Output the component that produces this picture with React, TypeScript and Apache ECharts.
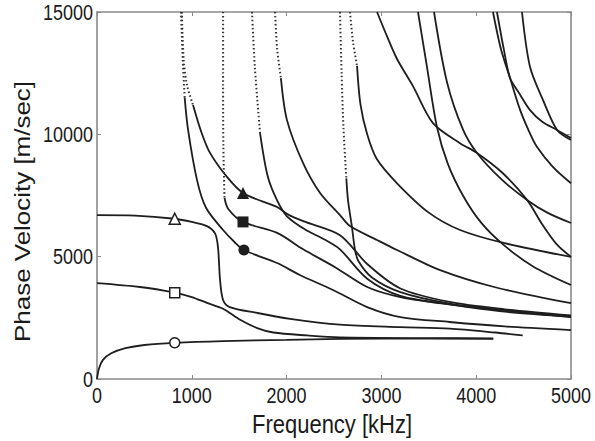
import React, { useEffect, useRef } from "react";
import * as echarts from "echarts";

// ---- data (frequency kHz, phase velocity m/s) ----
const xTickValues = [0, 1000, 2000, 3000, 4000, 5000];
const yTickValues = [0, 5000, 10000, 15000];
const xTitle = "Frequency [kHz]";
const yTitle = "Phase Velocity [m/sec]";

const modeA0 = [[0, 0], [20, 420], [63, 780], [150, 1050], [300, 1260], [500, 1390], [820, 1480], [1330, 1550], [2000, 1600], [2563, 1640], [3500, 1650], [4180, 1640]];
const modeS0 = [[0, 3920], [454, 3760], [820, 3530], [1000, 3350], [1160, 3110], [1330, 2870], [1510, 2420], [1690, 2080], [1860, 1900], [2215, 1780], [2563, 1700], [3500, 1670], [4180, 1660]];
const modeA1 = [[0, 6700], [400, 6680], [820, 6550], [1000, 6420], [1160, 6250], [1245, 5950], [1276, 5400], [1298, 4050], [1330, 3230], [1400, 2940], [1690, 2700], [2036, 2460], [2563, 2220], [3200, 2120], [3720, 2060], [4200, 1900], [4490, 1780]];

const modeCircleTop = [[886, 15000], [905, 13000], [925, 11500]];
const modeCircle = [[925, 11500], [960, 10200], [1055, 8130], [1150, 7000], [1330, 6090], [1450, 5600], [1550, 5270], [1900, 4740], [2140, 4250], [2490, 3640], [2850, 2940], [3200, 2530], [3720, 2330], [4300, 2150], [5000, 2000]];

const modeTriTop = [[895, 15000], [915, 13000], [950, 12000], [1013, 11200]];
const modeTri = [[1013, 11200], [1100, 10100], [1192, 9240], [1371, 8260], [1540, 7600], [1750, 7250], [1900, 7030], [2004, 6750], [2175, 6450], [2563, 5880], [2850, 4700], [3200, 3700], [3720, 3150], [4300, 2850], [5000, 2600]];

const modeSqTop = [[1330, 15000], [1330, 12000], [1333, 9500], [1345, 7400]];
const modeSq = [[1345, 7400], [1385, 6950], [1540, 6420], [1900, 5970], [2175, 5300], [2520, 4550], [2850, 3760], [3200, 3350], [3720, 3050], [4300, 2800], [5000, 2530]];

const mode1635Top = [[1635, 15000], [1665, 12750], [1720, 10050]];
const mode1635 = [[1720, 10050], [1800, 8300], [1900, 7300], [2004, 6650], [2200, 6100], [2400, 5700], [2563, 5300], [2850, 4100], [3200, 3400], [3720, 3050], [4300, 2750], [5000, 2550]];

const mode1878Top = [[1878, 15000], [1900, 13500], [1940, 12300]];
const mode1878 = [[1940, 12300], [2004, 10580], [2173, 8830], [2353, 7600], [2563, 6700], [2669, 6250], [2954, 5680], [3165, 5270], [3620, 4450], [4200, 3750], [5000, 3100]];

const mode2563Top = [[2563, 15000], [2580, 12500], [2600, 10250], [2630, 8200]];
const mode2563 = [[2630, 8200], [2648, 7300], [2690, 6200], [2722, 5270], [2760, 4800], [2900, 4150], [3200, 3550], [3720, 3080], [4300, 2800], [5000, 2560]];

const mode2669Top = [[2669, 15000], [2700, 13800], [2743, 12800]];
const mode2669 = [[2743, 12800], [2780, 11200], [2850, 10000], [2950, 9000], [3165, 8000], [3500, 6800], [3830, 6090], [4300, 5550], [5000, 4990]];

const mode2954 = [[2954, 15000], [3060, 14000], [3165, 13080], [3333, 11970], [3544, 10460], [3829, 9640], [4008, 9240], [4270, 8450], [4536, 7320], [4700, 6300], [4850, 5500], [5000, 4990]];
const mode3386 = [[3386, 15000], [3481, 12750], [3586, 10300], [3700, 8800], [3860, 7500], [4050, 6400], [4283, 5500], [4600, 4600], [5000, 3840]];
const mode3555 = [[3555, 15000], [3692, 12130], [3860, 10200], [4008, 9240], [4270, 8150], [4536, 7320], [4750, 6800], [5000, 6375]];
const mode4177 = [[4177, 15000], [4260, 13500], [4357, 12300], [4463, 11000], [4560, 10100], [4642, 9480], [4811, 8660], [5000, 8000]];
const mode4219 = [[4219, 15000], [4290, 13500], [4357, 12300], [4450, 11700], [4568, 10990], [4700, 10500], [4853, 10180], [5000, 9850]];
const mode4483 = [[4483, 15000], [4568, 12750], [4705, 11400], [4853, 10180], [5000, 9770]];

const hollowCircle = [[820, 1480]];
const hollowSquare = [[820, 3530]];
const hollowTriangle = [[820, 6550]];
const filledTriangle = [[1540, 7600]];
const filledSquare = [[1540, 6420]];
const filledCircle = [[1550, 5270]];

const solidCurves = [modeA0, modeS0, modeA1, modeCircle, modeTri, modeSq, mode1635, mode1878, mode2563, mode2669, mode2954, mode3386, mode3555, mode4177, mode4219, mode4483];
const dottedCurves = [modeCircleTop, modeTriTop, modeSqTop, mode1635Top, mode1878Top, mode2563Top, mode2669Top];

const FONT = "'Liberation Sans', Arial, Helvetica, sans-serif";
const AXIS_GRAY = "#8a8a8a";
const INK = "#1e1e1e";
const TEXT = "#1a1a1a";

export default function App() {
  const ref = useRef<HTMLDivElement>(null);
  useEffect(() => {
    if (!ref.current) return;
    const chart = echarts.init(ref.current, undefined, { renderer: "svg" });
    const series: any[] = [];
    solidCurves.forEach((d) =>
      series.push({
        type: "line",
        data: d,
        showSymbol: false,
        smooth: 0.3,
        lineStyle: { color: INK, width: 1.8 },
        silent: true,
      })
    );
    dottedCurves.forEach((d) =>
      series.push({
        type: "line",
        data: d,
        showSymbol: false,
        smooth: 0.3,
        lineStyle: { color: "#333", width: 2, type: [1.5, 2.5] },
        silent: true,
      })
    );
    const marker = (data: number[][], symbol: string, filled: boolean, size: number) => ({
      type: "scatter",
      data,
      symbol,
      symbolSize: size,
      z: 5,
      itemStyle: {
        color: filled ? INK : "#ffffff",
        borderColor: INK,
        borderWidth: filled ? 0 : 1.5,
        opacity: 1,
      },
    });
    series.push(marker(hollowCircle, "circle", false, 10));
    series.push(marker(hollowSquare, "rect", false, 10));
    series.push(marker(hollowTriangle, "triangle", false, 11));
    series.push(marker(filledTriangle, "triangle", true, 12));
    series.push(marker(filledSquare, "rect", true, 11));
    series.push(marker(filledCircle, "circle", true, 11));

    const xBase = {
      type: "value",
      min: xTickValues[0],
      max: xTickValues[xTickValues.length - 1],
      interval: xTickValues[1] - xTickValues[0],
      splitLine: { show: false },
      axisLabel: { show: false },
      axisLine: { show: true, onZero: false, lineStyle: { color: AXIS_GRAY, width: 1.6 } },
      axisTick: { show: true, inside: true, length: 4, lineStyle: { color: AXIS_GRAY } },
    };
    const yBase = {
      type: "value",
      min: yTickValues[0],
      max: yTickValues[yTickValues.length - 1],
      interval: yTickValues[1] - yTickValues[0],
      splitLine: { show: false },
      axisLabel: { show: false },
      axisLine: { show: true, onZero: false, lineStyle: { color: AXIS_GRAY, width: 1.6 } },
      axisTick: { show: true, inside: true, length: 4, lineStyle: { color: AXIS_GRAY } },
    };

    chart.setOption({
      animation: false,
      grid: { left: 97, right: 24, top: 12, bottom: 62, containLabel: false },
      xAxis: [
        { ...xBase, position: "bottom" },
        { ...xBase, position: "top" },
      ],
      yAxis: [
        { ...yBase, position: "left" },
        { ...yBase, position: "right" },
      ],
      series,
    });

    // tick labels and titles, placed through the axes' own scales (slightly tall glyphs like the reference)
    const toPx = (v: number[]) => chart.convertToPixel({ xAxisIndex: 0, yAxisIndex: 0 }, v) as number[];
    const graphics: any[] = [];
    const [x0, y0] = toPx([xTickValues[0], yTickValues[0]]);
    const [x1, y1] = toPx([xTickValues[xTickValues.length - 1], yTickValues[yTickValues.length - 1]]);
    xTickValues.forEach((v) => {
      const [px] = toPx([v, yTickValues[0]]);
      graphics.push({
        type: "text",
        x: px,
        y: y0 + 6,
        scaleY: 1.2,
        silent: true,
        style: { text: String(v), fontSize: 18, fontFamily: FONT, fill: TEXT, align: "center", verticalAlign: "top" },
      });
    });
    yTickValues.forEach((v) => {
      const [, py] = toPx([xTickValues[0], v]);
      graphics.push({
        type: "text",
        x: x0 - 4,
        y: py,
        scaleY: 1.2,
        silent: true,
        style: { text: String(v), fontSize: 18, fontFamily: FONT, fill: TEXT, align: "right", verticalAlign: "middle" },
      });
    });
    graphics.push({
      type: "text",
      x: (x0 + x1) / 2 - 2,
      y: y0 + 45,
      scaleY: 1.2,
      silent: true,
      style: { text: xTitle, fontSize: 22, fontFamily: FONT, fill: TEXT, align: "center", verticalAlign: "middle" },
    });
    graphics.push({
      type: "text",
      x: 22,
      y: (y0 + y1) / 2 + 16,
      rotation: Math.PI / 2,
      scaleX: 1.18,
      silent: true,
      style: { text: yTitle, fontSize: 22, fontFamily: FONT, fill: TEXT, align: "center", verticalAlign: "middle" },
    });
    chart.setOption({ graphic: graphics });

    return () => chart.dispose();
  }, []);
  return (
    <div
      ref={ref}
      style={{ position: "fixed", left: 0, top: 0, width: 595, height: 441, background: "#fff" }}
    />
  );
}
